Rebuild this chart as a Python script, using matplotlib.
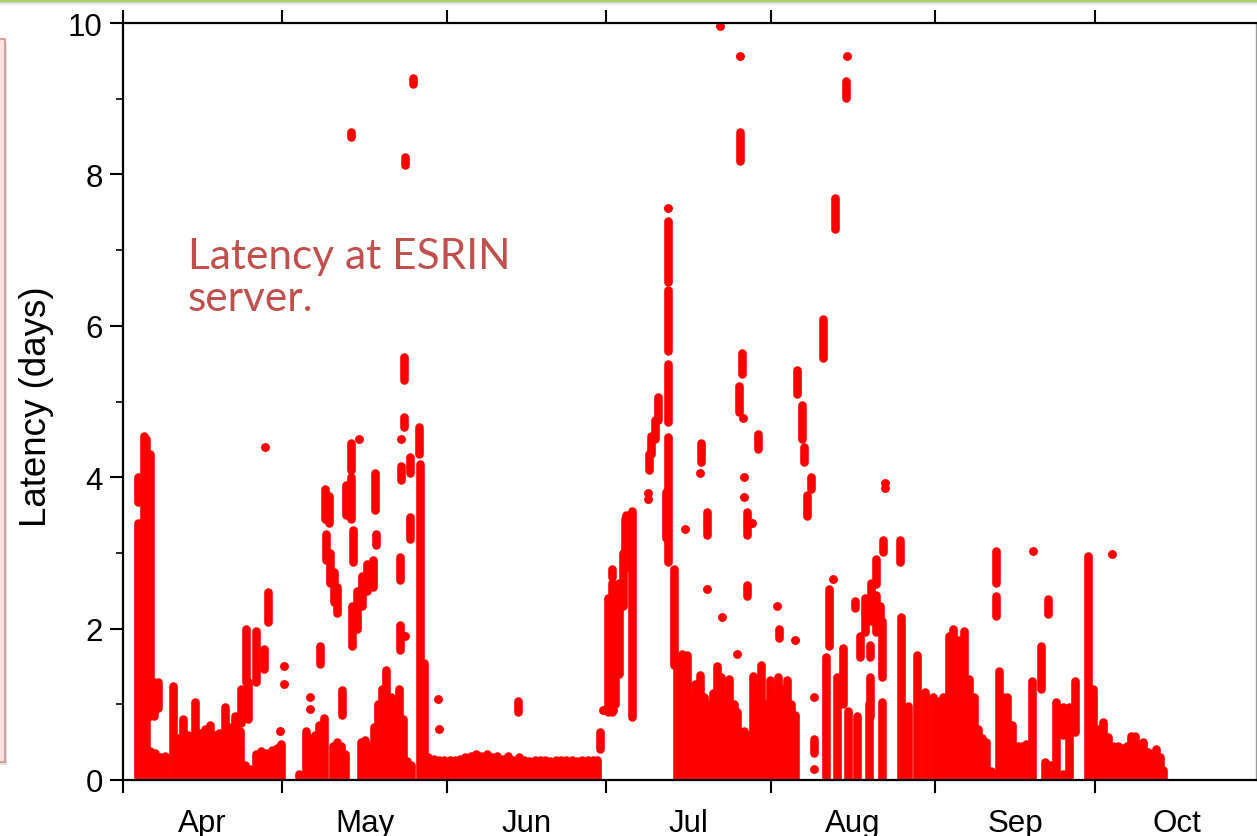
import matplotlib
matplotlib.use("Agg")
import matplotlib.pyplot as plt
from matplotlib.patches import Rectangle
import numpy as np

# ---------------- data (days since 1 April, latency in days) ----------------
month_labels = ["Apr", "May", "Jun", "Jul", "Aug", "Sep", "Oct"]
month_starts = [0, 30, 61, 91, 122, 153, 183, 214]

# vertical runs of densely packed samples: (day, low latency, high latency)
apr_runs = [
    (2.8, 0, 3.4), (2.9, 3.67, 4.0), (3.4, 0, 3.4), (3.9, 0, 4.55), (4.3, 0, 4.5),
    (5.0, 0.85, 4.3), (5.8, 0.85, 1.3), (6.6, 0.95, 1.3),
    (5.0, 0, 0.38), (6.0, 0, 0.36), (7.0, 0, 0.3), (8.0, 0, 0.32), (9.4, 0, 1.24),
    (10.4, 0, 0.55), (11.3, 0, 0.8), (12.2, 0, 0.6), (13.5, 0, 1.03), (14.5, 0, 0.62),
    (15.5, 0, 0.68), (16.3, 0, 0.72), (17.2, 0, 0.6), (18.0, 0, 0.62), (19.2, 0, 0.96),
    (20.2, 0, 0.7), (21.0, 0, 0.85), (22.0, 0, 0.65), (23.0, 0, 0.2), (24.0, 0, 0.15),
    (25.0, 0, 0.35), (26.0, 0, 0.38), (27.0, 0, 0.36), (28.0, 0, 0.4), (29.0, 0, 0.42),
    (29.8, 0, 0.47),
    (22.2, 0.75, 1.2), (23.2, 1.3, 2.0), (23.6, 0.8, 1.3), (25.1, 1.3, 1.97),
    (26.6, 1.47, 1.73), (27.3, 2.09, 2.48),
]
may_runs = [
    (33.2, 0, 0.08), (34.4, 0, 0.65), (35.3, 0, 0.55), (36.2, 0, 0.6), (37.0, 0, 0.72),
    (37.8, 0, 0.82), (39.5, 0, 0.45), (40.3, 0, 0.5), (41.1, 0, 0.45), (41.8, 0, 0.35),
    (44.8, 0, 0.5), (45.6, 0, 0.53), (46.4, 0, 0.45), (47.2, 0, 0.7), (48.0, 0, 1.0),
    (48.8, 0, 1.2), (49.6, 0, 1.45), (50.4, 0, 1.1), (51.2, 0, 0.95), (52.0, 0, 1.2),
    (52.7, 0, 0.8), (53.5, 0, 0.25), (54.3, 0, 0.2), (55.9, 0, 4.17), (56.6, 0, 1.55),
    (37.1, 1.53, 1.77), (38.0, 3.45, 3.85), (38.8, 3.4, 3.75), (38.3, 2.9, 3.25),
    (39.0, 2.6, 3.0), (39.7, 2.35, 2.75), (40.3, 2.2, 2.55), (41.2, 0.86, 1.19),
    (42.0, 3.5, 3.9), (43.0, 3.45, 4.0), (43.0, 4.1, 4.45), (43.4, 2.88, 3.3),
    (43.2, 1.77, 2.3), (44.0, 2.0, 2.5), (45.0, 2.3, 2.7), (46.0, 2.5, 2.85),
    (47.0, 2.55, 2.9), (47.5, 3.57, 4.06), (47.7, 3.1, 3.25), (52.2, 2.64, 2.95),
    (52.2, 1.72, 2.05), (53.0, 5.28, 5.59), (53.0, 4.66, 4.8), (52.3, 3.96, 4.15),
    (54.0, 4.06, 4.27), (54.0, 3.18, 3.47), (55.7, 4.3, 4.66), (53.1, 8.13, 8.23),
    (42.9, 8.5, 8.56), (54.7, 9.2, 9.28),
]
jun_runs = [
    (57.5, 0, 0.3), (58.5, 0, 0.28), (59.5, 0, 0.27), (60.5, 0, 0.26), (61.5, 0, 0.27),
    (62.5, 0, 0.27), (63.5, 0, 0.28), (64.5, 0, 0.3), (65.5, 0, 0.32), (66.5, 0, 0.34),
    (67.5, 0, 0.32), (68.5, 0, 0.34), (69.5, 0, 0.3), (70.5, 0, 0.32), (71.5, 0, 0.28),
    (72.5, 0, 0.32), (73.5, 0, 0.27), (74.5, 0, 0.31), (75.5, 0, 0.27), (76.5, 0, 0.25),
    (77.5, 0, 0.26), (78.5, 0, 0.26), (79.5, 0, 0.27), (80.5, 0, 0.25), (81.5, 0, 0.27),
    (82.5, 0, 0.26), (83.5, 0, 0.27), (84.5, 0, 0.26), (85.5, 0, 0.25), (86.5, 0, 0.26),
    (87.5, 0, 0.26), (88.5, 0, 0.27), (89.3, 0, 0.27),
    (74.3, 0.9, 1.04), (89.8, 0.41, 0.63),
]
jul_runs = [
    (91.3, 0.9, 2.4), (92.0, 0.9, 2.6), (92.1, 2.68, 2.79), (92.7, 1.0, 2.4),
    (93.4, 1.4, 2.6), (94.1, 2.3, 3.0), (94.5, 2.8, 3.45), (94.8, 3.2, 3.5),
    (95.9, 0.83, 3.55),
    (99.0, 4.1, 4.3), (99.5, 4.3, 4.55), (100.2, 4.5, 4.75), (100.8, 4.75, 5.06),
    (102.7, 2.88, 4.53), (102.7, 4.73, 5.5), (102.7, 5.67, 6.47), (102.7, 6.58, 7.38),
    (102.3, 3.2, 3.8), (103.7, 1.52, 2.79),
    (104.3, 0, 1.6), (105.2, 0, 1.67), (106.2, 0, 1.65), (107.0, 0, 1.1), (107.8, 0, 1.27),
    (108.7, 0, 1.39), (109.5, 0, 1.1), (110.3, 0, 1.0), (111.1, 0, 1.15), (111.8, 0, 1.5),
    (112.6, 0, 1.36), (113.4, 0, 1.1), (114.2, 0, 1.33), (115.0, 0, 1.0), (115.6, 0, 0.9),
    (117.0, 0, 0.65), (117.8, 0, 0.6), (118.6, 0, 1.37), (119.4, 0, 1.2), (120.2, 0, 1.52),
    (121.0, 0, 1.0), (121.8, 0, 1.32),
    (108.8, 4.2, 4.45), (110.0, 3.24, 3.54), (116.6, 5.36, 5.64), (116.1, 4.86, 5.2),
    (117.5, 3.24, 3.54), (117.5, 2.43, 2.58), (116.2, 8.18, 8.56), (119.6, 4.37, 4.57),
]
aug_runs = [
    (122.6, 0, 1.1), (123.4, 0, 1.36), (124.2, 0, 1.2), (125.0, 0, 1.32), (125.8, 0, 1.0),
    (126.5, 0, 0.86), (123.5, 1.88, 2.0),
    (127.0, 5.1, 5.41), (127.8, 4.5, 4.96), (128.2, 4.2, 4.4), (129.5, 3.85, 4.0),
    (128.8, 3.49, 3.77), (131.8, 5.57, 6.09), (134.0, 7.28, 7.69), (136.2, 9.01, 9.24),
    (132.9, 1.77, 2.52), (132.4, 0, 1.62), (130.2, 0.36, 0.54),
    (134.5, 0, 1.36), (135.6, 1.0, 1.75), (136.6, 0, 0.91), (137.8, 2.27, 2.36),
    (138.2, 0, 0.85), (138.8, 1.62, 1.9), (139.8, 1.95, 2.4), (140.8, 2.1, 2.6),
    (141.8, 1.95, 2.45), (142.6, 2.0, 2.3), (141.8, 2.59, 2.92), (140.7, 1.62, 1.78),
    (140.7, 0.85, 1.36), (140.5, 0, 1.0), (143.0, 1.36, 2.1), (143.0, 0, 1.03),
    (143.2, 3.01, 3.17), (146.3, 2.88, 3.17), (146.5, 0, 2.15), (147.9, 0, 0.98),
    (149.5, 0, 1.65), (151.0, 0, 1.16), (152.5, 0, 1.1),
]
sep_runs = [
    (153.5, 0, 1.05), (154.4, 0, 1.1), (155.5, 0, 1.9), (156.4, 0, 2.0), (157.3, 0, 1.85),
    (158.4, 0, 1.97), (159.4, 0, 1.33), (160.2, 0, 1.1), (161.0, 0, 0.67), (161.8, 0, 0.55),
    (162.6, 0, 0.5), (163.4, 0, 0.12),
    (164.5, 2.6, 3.03), (164.5, 2.17, 2.43), (164.9, 0, 1.44), (165.7, 0, 1.1),
    (166.5, 0, 1.1), (167.5, 0, 0.72), (168.5, 0, 0.45), (169.3, 0, 0.45), (170.1, 0, 0.47),
    (171.2, 0, 1.31), (172.9, 1.2, 1.77), (174.2, 2.19, 2.39), (173.7, 0, 0.24),
    (174.5, 0, 0.2), (175.8, 0, 1.03), (177.0, 0.6, 0.97), (177.0, 0, 0.08),
    (178.2, 0, 0.97), (179.3, 0.63, 1.31), (181.7, 0, 2.96),
]
oct_runs = [
    (182.7, 0, 1.2), (183.6, 0, 0.67), (184.6, 0, 0.76), (185.5, 0, 0.57), (186.4, 0, 0.45),
    (187.3, 0, 0.45), (188.2, 0, 0.42), (189.0, 0, 0.45), (189.9, 0, 0.58), (190.6, 0, 0.58),
    (191.3, 0, 0.45), (192.1, 0, 0.5), (193.0, 0, 0.37), (193.7, 0, 0.3), (194.5, 0, 0.41),
    (195.3, 0, 0.3), (195.8, 0, 0.13),
]

# isolated samples
dot_day = [26.7, 29.5, 30.4, 30.4, 35.2, 35.2, 44.5, 52.3, 53.1, 59.3, 59.5,
           90.4, 92.3, 98.9, 98.9, 102.7, 105.8, 108.7, 110.0, 112.8, 115.6,
           116.8, 116.9, 116.9, 118.5, 112.4, 116.2, 123.2, 126.6,
           136.3, 133.7, 130.2, 130.2, 143.5, 143.5, 171.4, 186.2]
dot_lat = [4.4, 0.65, 1.5, 1.27, 1.1, 0.94, 4.5, 4.51, 1.9, 1.07, 0.67,
           0.92, 0.92, 3.79, 3.71, 7.56, 3.31, 4.06, 2.52, 2.15, 1.67,
           4.78, 4.0, 3.74, 3.4, 9.96, 9.57, 2.3, 1.85,
           9.57, 2.66, 1.1, 0.15, 3.86, 3.92, 3.03, 2.99]

# ---------------- figure ----------------
W, H = 1257, 837
fig = plt.figure(figsize=(W / 100, H / 100), dpi=100)
ax = fig.add_axes([123 / W, (H - 781) / H, (1256 - 123) / W, (781 - 24) / H])

RED = "#FF0000"
runs = apr_runs + may_runs + jun_runs + jul_runs + aug_runs + sep_runs + oct_runs
rd = [r[0] for r in runs]
rlo = [r[1] for r in runs]
rhi = [r[2] for r in runs]
ax.vlines(rd, rlo, rhi, colors=RED, linewidth=6.2, capstyle="round", zorder=2)
ax.plot(dot_day, dot_lat, "o", ms=6.4, color=RED, mec="none", zorder=2)

ax.set_xlim(0, (1256 - 123) / 5.31)
ax.set_ylim(0, 10)

# x axis: ticks at month starts, labels at mid-month
ax.set_xticks(month_starts[:-1])
ax.set_xticklabels([])
mids = [(month_starts[i] + month_starts[i + 1]) / 2 for i in range(len(month_labels))]
ax.set_xticks(mids, minor=True)
ax.set_xticklabels(month_labels, minor=True)
ax.tick_params(axis="x", which="major", direction="out", length=9.5, width=1.5,
               top=True, bottom=True, color="black")
ax.tick_params(axis="x", which="minor", length=0, pad=20, labelsize=22.5)

ax.set_yticks([0, 2, 4, 6, 8, 10])
ax.set_yticks([1, 3, 5, 7, 9], minor=True)
ax.tick_params(axis="y", which="major", direction="out", length=9.5, width=1.5,
               labelsize=22.5, pad=5)
ax.tick_params(axis="y", which="minor", direction="out", length=5, width=1.2)

for lab in ax.get_xticklabels(minor=True) + ax.get_yticklabels():
    lab.set_family("Liberation Sans")

ax.set_ylabel("Latency (days)", fontsize=26.5, family="Liberation Sans")
ax.yaxis.set_label_coords(-0.061, 0.495)

for s in ["left", "bottom", "top"]:
    ax.spines[s].set_linewidth(1.6)
    ax.spines[s].set_color("black")
ax.spines["right"].set_color("#9a9a9a")
ax.spines["right"].set_linewidth(1.0)

fig.text(188 / W, 1 - 238 / H, "Latency at ESRIN\nserver.", ha="left", va="top",
         color="#C0504D", fontsize=30.5, family="Lato", linespacing=1.13)

# slide decorations: green rule on top, framed box on the left edge
for i, a in enumerate([0.35, 0.22, 0.12, 0.05]):
    fig.add_artist(Rectangle((0, 1 - (4 + i) / H), 1, 1 / H, transform=fig.transFigure,
                             facecolor="#808080", alpha=a, edgecolor="none"))
fig.add_artist(Rectangle((0, 1 - 3 / H), 1, 3 / H, transform=fig.transFigure,
                         facecolor="#A9D463", edgecolor="none"))
fig.add_artist(Rectangle((0, (H - 766) / H), 7 / W, (766 - 43) / H, transform=fig.transFigure,
                         facecolor="#c8c8c8", edgecolor="none", alpha=0.6))
fig.add_artist(Rectangle((-2 / W, (H - 763) / H), 7 / W, (763 - 40) / H,
                         transform=fig.transFigure, facecolor="#FBE3E3",
                         edgecolor="#D98E8C", linewidth=1.2))

fig.savefig("out.png", dpi=100)
